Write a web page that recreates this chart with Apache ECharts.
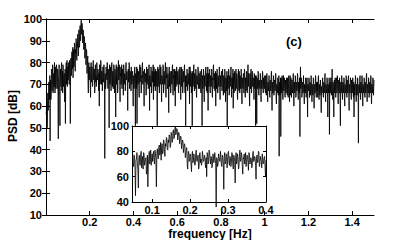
<!DOCTYPE html>
<html>
<head>
<meta charset="utf-8">
<script src="https://cdn.jsdelivr.net/npm/echarts@6/dist/echarts.min.js"></script>
<style>
html,body{margin:0;padding:0;background:#fff;}
#c{width:403px;height:240px;}
</style>
</head>
<body>
<div id="c"></div>
<script>
// PSD values [dB], each array covers one 0.1 Hz band (evenly spaced samples)
const psdBand00 = [56,60,62,50,52,64,66,58,60,71,70,63,64,74,44,68,72,63,66,77,76,67,70,79,78,66,68,75,74,69,80,71,66,78,75,68,71,79,78,70,68,77,76,65,45,73,74,79,70,66,51,74,77,70,69,78,80,67,72,76,66,79,78,69,71,74,75,62,64,77,52,70,76,80,70,72,81,69,73,78];
const psdBand01 = [72,77,80,73,70,81,78,74,52,79,82,76,74,83,85,77,78,87,73,82,86,78,79,89,88,80,76,86,84,91,90,82,81,89,87,93,92,83,84,95,94,87,88,96,97,90,91,98,99.5,93,93,98,97,89,89,95,94,86,86,92,91,82,82,89,88,79,79,86,85,75,75,82,83,70,66,79,80,72,73,78];
const psdBand02 = [76,70,64,77,80,71,73,78,78,69,70,79,81,73,72,76,77,66,68,78,79,71,74,69,71,80,80,72,73,77,76,70,67,75,60,79,78,70,72,81,80,74,70,76,75,67,69,78,77,71,73,79,79,70,36,75,74,68,70,78,78,73,72,80,76,69,68,77,75,71,50,76,79,70,71,78,77,67,73,79];
const psdBand03 = [80,71,69,76,75,68,71,79,78,70,66,77,76,72,55,74,79,70,72,78,75,66,68,76,81,72,73,79,77,69,62,75,74,78,70,73,79,68,72,77,76,71,65,79,78,70,71,75,74,67,69,78,80,72,73,76,75,69,58,74,77,71,72,80,79,68,70,76,74,72,67,78,78,70,72,75,76,68,60,73];
const psdBand04 = [74,68,70,77,78,71,51,75,75,69,68,78,52,73,77,70,71,76,74,67,64,75,79,71,72,78,76,66,67,74,73,79,80,70,70,76,75,68,60,77,77,72,71,75,74,65,66,78,78,70,72,77,75,68,69,76,79,71,58,74,74,69,71,78,77,66,68,75,76,71,72,79,63,74,78,69,70,76,74,67];
const psdBand05 = [77,70,69,76,75,67,51,74,78,69,71,77,74,68,66,75,79,70,72,78,76,67,62,74,74,71,70,79,78,66,68,76,75,70,71,77,80,69,64,74,73,78,77,68,69,75,75,71,57,77,78,69,72,76,74,66,67,75,76,70,71,78,79,68,65,74,73,77,70,67,77,72,60,76,75,69,72,78,78,70];
const psdBand06 = [70,76,74,68,66,75,77,70,71,78,75,67,63,74,78,69,70,77,73,66,68,75,76,71,72,78,79,68,66,74,51,73,74,69,70,77,77,67,69,75,75,70,72,78,61,73,78,69,71,76,74,66,68,75,51,72,76,69,72,78,79,70,67,75,73,68,70,77,76,66,64,74,74,70,71,78,77,68,69,75];
const psdBand07 = [75,68,70,76,73,67,66,75,77,69,51,73,74,68,70,77,76,66,62,74,72,69,69,77,78,70,67,75,74,66,71,78,58,73,75,69,70,76,77,67,66,74,73,70,69,77,76,65,64,73,72,78,79,69,68,75,74,67,70,76,60,72,75,68,71,77,77,66,67,74,73,69,70,78,76,67,63,74,72,69];
const psdBand08 = [69,76,75,67,71,77,77,68,65,74,73,66,70,77,76,69,62,73,72,67,68,76,51,72,74,68,70,77,76,65,66,74,73,69,69,76,78,67,64,73,71,68,74,77,59,72,75,66,70,76,73,69,67,74,77,68,71,75,74,65,63,72,72,77,69,67,76,70,66,74,73,68,70,77,75,66,61,73,72,69];
const psdBand09 = [68,75,74,66,70,77,76,68,64,73,72,67,69,76,75,66,67,74,79,69,71,75,73,65,60,72,75,68,69,77,72,66,66,74,76,69,70,73,73,67,63,75,71,68,68,74,51,70,74,67,52,73,72,68,69,76,75,66,65,72,71,69,68,75,74,65,62,71,72,68,69,76,75,67,66,73,71,69,68,74];
const psdBand10 = [73,67,66,74,71,65,68,75,75,66,62,71,70,67,67,74,74,65,64,72,71,67,69,75,76,66,58,71,70,66,67,74,73,65,65,72,71,67,68,75,74,64,61,70,70,67,66,73,72,65,68,74,37,69,71,65,66,73,46,70,73,66,67,74,70,64,63,71,74,67,68,73,71,65,64,72,72,66,67,73];
const psdBand11 = [70,66,65,73,73,64,68,74,71,66,62,70,74,65,67,73,70,64,64,72,72,66,69,74,75,65,60,70,71,66,67,74,73,64,65,71,70,67,68,75,74,65,63,71,71,66,67,73,46,70,78,68,69,73,72,64,65,71,70,66,67,74,74,65,61,70,70,67,66,73,72,64,68,71,73,66,55,70,70,67];
const psdBand12 = [67,73,72,64,64,71,70,65,68,74,74,66,62,70,69,65,66,73,72,64,59,69,70,66,67,74,73,65,64,71,69,67,71,64,66,73,74,66,63,70,70,65,67,72,72,64,57,69,69,66,66,73,73,65,64,71,70,66,68,74,75,65,62,70,69,67,66,73,72,64,55,70,70,66,67,73,47,69,71,66];
const psdBand13 = [66,73,72,65,68,74,77,67,63,71,70,65,55,69,72,66,67,73,71,64,64,72,73,66,68,74,70,65,61,70,72,67,66,73,69,64,51,70,71,66,67,74,74,65,63,71,70,66,66,73,72,64,60,70,69,66,67,74,73,65,64,72,70,66,68,73,74,64,58,70,69,66,66,73,71,65,63,72,70,66];
const psdBand14 = [67,73,72,65,64,71,55,69,70,65,67,74,73,66,62,70,69,65,66,73,71,64,43,69,70,66,67,73,74,65,63,71,69,66,66,74,72,64,60,70,70,66,67,73,73,65,64,71,69,66,68,74,75,65,62,70,70,67,66,73,72,64,65,71,69,66,67,74,73,65,61,70,70,66,66,73,71,65,68,72];

const psdBands = [psdBand00,psdBand01,psdBand02,psdBand03,psdBand04,psdBand05,psdBand06,psdBand07,
                  psdBand08,psdBand09,psdBand10,psdBand11,psdBand12,psdBand13,psdBand14];
const bandWidthHz = 0.1;

const mainXTicks = [0.2,0.4,0.6,0.8,1,1.2,1.4];
const insetXTicks = [0.1,0.2,0.3,0.4];
const insetXRange = [0.047, 0.4];

const mainData = [];
psdBands.forEach((band, k) => {
  const n = band.length;
  band.forEach((v, j) => {
    const f = Math.round((k * bandWidthHz + (j + 1) * bandWidthHz / n) * 100000) / 100000;
    mainData.push([f, v]);
  });
});
const insetData = mainData.filter(p => p[0] >= insetXRange[0] && p[0] <= insetXRange[1] + 1e-9);

const black = '#000';
const FAMILY = 'Liberation Sans, Arial, sans-serif';
const lblFont = {color: black, fontFamily: FAMILY, fontWeight: 'bold', fontSize: 11};

const chart = echarts.init(document.getElementById('c'), null, {renderer: 'svg'});
chart.setOption({
  animation: false,
  backgroundColor: '#fff',
  grid: [
    {left: 46, top: 19, width: 328, height: 196, show: false, containLabel: false, outerBoundsMode: 'none'},
    {left: 132, top: 126, width: 134, height: 76, show: true, backgroundColor: '#fff', borderWidth: 0, z: 3,
     containLabel: false, outerBoundsMode: 'none'}
  ],
  xAxis: [
    {type: 'value', gridIndex: 0, min: 0, max: 1.5, position: 'bottom',
     axisLine: {lineStyle: {color: black, width: 1}},
     axisTick: {inside: true, length: 4, lineStyle: {color: black}, customValues: mainXTicks},
     axisLabel: Object.assign({margin: 1, customValues: mainXTicks}, lblFont),
     splitLine: {show: false}},
    {type: 'value', gridIndex: 0, min: 0, max: 1.5, position: 'top',
     axisLine: {lineStyle: {color: black, width: 1}},
     axisTick: {inside: true, length: 4, lineStyle: {color: black}, customValues: mainXTicks},
     axisLabel: {show: false}, splitLine: {show: false}},
    {type: 'value', gridIndex: 1, min: insetXRange[0], max: insetXRange[1], position: 'bottom', z: 5,
     axisLine: {lineStyle: {color: black, width: 1}},
     axisTick: {inside: true, length: 3, lineStyle: {color: black}, customValues: insetXTicks},
     axisLabel: Object.assign({margin: 2, customValues: insetXTicks}, lblFont),
     splitLine: {show: false}},
    {type: 'value', gridIndex: 1, min: insetXRange[0], max: insetXRange[1], position: 'top', z: 5,
     axisLine: {lineStyle: {color: black, width: 1}},
     axisTick: {inside: true, length: 3, lineStyle: {color: black}, customValues: insetXTicks},
     axisLabel: {show: false}, splitLine: {show: false}}
  ],
  yAxis: [
    {type: 'value', gridIndex: 0, min: 10, max: 100, interval: 10, position: 'left',
     axisLine: {show: true, lineStyle: {color: black, width: 1}},
     axisTick: {show: true, inside: true, length: 4, lineStyle: {color: black}},
     axisLabel: Object.assign({margin: 4}, lblFont),
     splitLine: {show: false}},
    {type: 'value', gridIndex: 0, min: 10, max: 100, interval: 10, position: 'right',
     axisLine: {show: true, lineStyle: {color: black, width: 1}},
     axisTick: {show: true, inside: true, length: 4, lineStyle: {color: black}},
     axisLabel: {show: false}, splitLine: {show: false}},
    {type: 'value', gridIndex: 1, min: 40, max: 100, interval: 20, position: 'left', z: 5,
     axisLine: {show: true, lineStyle: {color: black, width: 1}},
     axisTick: {show: true, inside: true, length: 3, lineStyle: {color: black}},
     axisLabel: Object.assign({margin: 3}, lblFont),
     splitLine: {show: false}},
    {type: 'value', gridIndex: 1, min: 40, max: 100, interval: 20, position: 'right', z: 5,
     axisLine: {show: true, lineStyle: {color: black, width: 1}},
     axisTick: {show: true, inside: true, length: 3, lineStyle: {color: black}},
     axisLabel: {show: false}, splitLine: {show: false}}
  ],
  graphic: [
    {type: 'text', left: 286, top: 35, z: 10,
     style: {text: '(c)', fill: black, font: 'bold 13px Liberation Sans, Arial, sans-serif'}},
    {type: 'text', x: 210, y: 234, z: 10,
     style: {text: 'frequency [Hz]', fill: black, font: 'bold 12px Liberation Sans, Arial, sans-serif',
             align: 'center', verticalAlign: 'middle'}},
    {type: 'text', x: 13, y: 116, rotation: Math.PI / 2, z: 10,
     style: {text: 'PSD [dB]', fill: black, font: 'bold 12px Liberation Sans, Arial, sans-serif',
             align: 'center', verticalAlign: 'middle'}}
  ],
  series: [
    {type: 'line', xAxisIndex: 0, yAxisIndex: 0, data: mainData, showSymbol: false, z: 2,
     lineStyle: {color: black, width: 0.85}, clip: true},
    {type: 'line', xAxisIndex: 2, yAxisIndex: 2, data: insetData, showSymbol: false, z: 4,
     lineStyle: {color: black, width: 0.8}, clip: false}
  ]
});
</script>
</body>
</html>
